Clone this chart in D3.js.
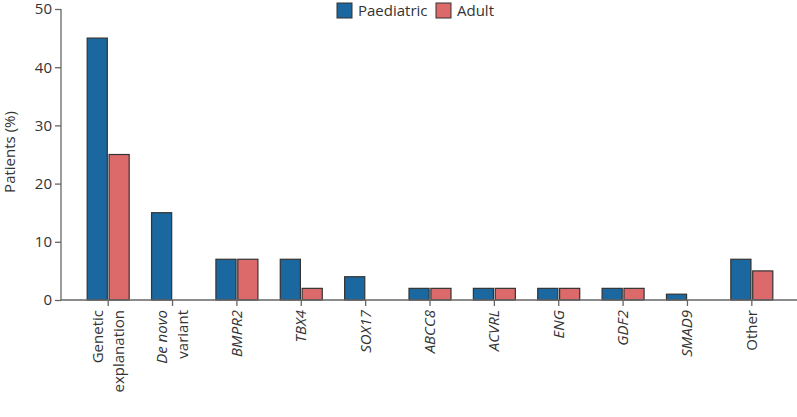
<!DOCTYPE html>
<html><head><meta charset="utf-8">
<script src="https://cdn.jsdelivr.net/npm/d3@7"></script>
<style>body{margin:0;background:#fff}text{font-family:"Open Sans","Noto Sans",sans-serif;fill:#333}</style>
</head><body><svg id="c" width="797" height="417"></svg>
<script>
const categories = [["Genetic","explanation"],["De novo","variant"],["BMPR2"],["TBX4"],["SOX17"],["ABCC8"],["ACVRL"],["ENG"],["GDF2"],["SMAD9"],["Other"]];
const italicLines = [[false,false],[true,false],[true],[true],[true],[true],[true],[true],[true],[true],[false]];
const paediatric = [45,15,7,7,4,2,2,2,2,1,7];
const adult = [25,0,7,2,0,2,2,2,2,0,5];
const seriesNames = ["Paediatric","Adult"];
const colors = ["#1b679f","#dc6a6a"];
const yTicks = [0,10,20,30,40,50];

const svg = d3.select("#c");
const y = d3.scaleLinear().domain([0,50]).range([300,9]);
const x = d3.scaleBand().domain(d3.range(categories.length)).range([76,784]);
const x1 = d3.scaleBand().domain([0,1]).range([-21,21]).paddingInner(0.08);

// axes
const ya = svg.append("g").attr("transform","translate(61,0)")
  .call(d3.axisLeft(y).tickValues(yTicks).tickSize(6).tickPadding(3));
ya.select(".domain").attr("stroke","#666").attr("stroke-width",1.3).attr("d","M0,300V9");
ya.selectAll(".tick line").attr("stroke","#666").attr("stroke-width",1.3);
ya.selectAll(".tick text").attr("font-size",15).attr("fill","#333");

const xa = svg.append("g").attr("transform","translate(0,300)")
  .call(d3.axisBottom(x).tickSize(6).tickFormat(""));
xa.select(".domain").attr("stroke","#666").attr("stroke-width",1.3).attr("d","M61,0H797");
xa.selectAll(".tick line").attr("stroke","#666").attr("stroke-width",1.3);

// bars
const g = svg.append("g");
categories.forEach((c,i)=>{
  [paediatric[i],adult[i]].forEach((v,s)=>{
    if(v<=0) return;
    g.append("rect")
      .attr("x", x(i)+x.bandwidth()/2 + x1(s))
      .attr("y", y(v))
      .attr("width", x1.bandwidth())
      .attr("height", y(0)-y(v))
      .attr("fill", colors[s]).attr("stroke","#333").attr("stroke-width",1.2);
  });
});
xa.raise();

// x labels
categories.forEach((c,i)=>{
  const cx = x(i)+x.bandwidth()/2;
  const n = c.length;
  c.forEach((line,k)=>{
    const off = (k-(n-1)/2)*21;
    svg.append("text")
      .attr("transform",`translate(${cx+off+5},310) rotate(-90)`)
      .attr("text-anchor","end")
      .attr("font-size",15)
      .attr("font-style", italicLines[i][k]?"italic":"normal")
      .text(line);
  });
});

// y label
svg.append("text").attr("transform","translate(15,152) rotate(-90)")
  .attr("text-anchor","middle").attr("font-size",15).text("Patients (%)");

// legend
const legX = [337,436];
seriesNames.forEach((s,i)=>{
  svg.append("rect").attr("x",legX[i]).attr("y",3).attr("width",15).attr("height",15)
    .attr("fill",colors[i]).attr("stroke","#333").attr("stroke-width",1);
  svg.append("text").attr("x",legX[i]+21).attr("y",16).attr("font-size",15).text(s);
});
</script></body></html>
